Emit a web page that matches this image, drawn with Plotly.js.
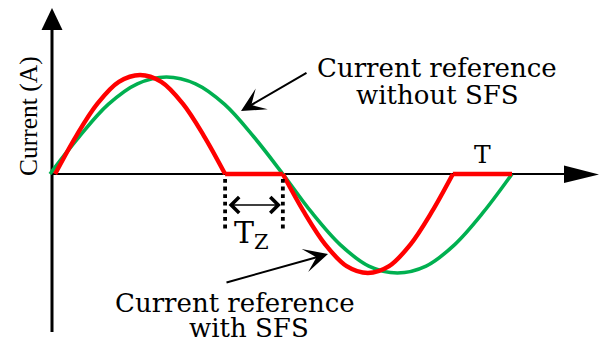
<!DOCTYPE html>
<html>
<head>
<meta charset="utf-8">
<script src="https://cdn.plot.ly/plotly-3.0.1.min.js"></script>
<style>html,body{margin:0;padding:0;background:#fff}#chart{width:600px;height:345px}</style>
</head>
<body>
<div id="chart"></div>
<script>
// ---- data (time in periods, current in per-unit amplitude) ----
const greenTime = [0, 0.063, 0.126, 0.189, 0.252, 0.315, 0.378, 0.441, 0.504,
                   0.566, 0.628, 0.690, 0.752, 0.814, 0.876, 0.938, 1.0];
const greenCurrent = [0, 0.38, 0.71, 0.92, 0.99, 0.92, 0.71, 0.38, 0,
                      -0.39, -0.72, -0.94, -1.01, -0.94, -0.72, -0.39, 0];

const redPosTime = [0.011, 0.057, 0.103, 0.149, 0.195, 0.241, 0.287, 0.333, 0.379];
const redPosCurrent = [0, 0.39, 0.72, 0.94, 1.01, 0.94, 0.72, 0.39, 0];
const redZero1Time = [0.379, 0.504];
const redZero1Current = [0, 0];
const redNegTime = [0.504, 0.550, 0.596, 0.642, 0.688, 0.734, 0.780, 0.826, 0.872];
const redNegCurrent = [0, -0.39, -0.72, -0.94, -1.01, -0.94, -0.72, -0.39, 0];
const redZero2Time = [0.872, 1.0];
const redZero2Current = [0, 0];

const tzStart = 0.379, tzEnd = 0.504;   // dead-zone limits
const labels = {
  yTitle: 'Current (A)',
  withoutTop: 'Current reference', withoutBottom: 'without SFS',
  withTop: 'Current reference', withBottom: 'with SFS',
  period: 'T', tz: 'T<sub>Z</sub>'
};

// ---- layout helpers (decoration placement only) ----
const X = p => (p - 50) / 462;
const Y = p => (174 - p) / 98;
const RED = '#ff0000', GREEN = '#00b050';
const FONT = 'DejaVu Serif, Liberation Serif, serif';

const traces = [
  {x: greenTime, y: greenCurrent, mode: 'lines', line: {color: GREEN, width: 3.6, shape: 'spline', smoothing: 1}},
  {x: redPosTime, y: redPosCurrent, mode: 'lines', line: {color: RED, width: 4.4, shape: 'spline', smoothing: 1}},
  {x: redZero1Time, y: redZero1Current, mode: 'lines', line: {color: RED, width: 4.4}},
  {x: redNegTime, y: redNegCurrent, mode: 'lines', line: {color: RED, width: 4.4, shape: 'spline', smoothing: 1}},
  {x: redZero2Time, y: redZero2Current, mode: 'lines', line: {color: RED, width: 4.4}},
  {x: [tzStart, tzStart], y: [Y(179), Y(229)], mode: 'lines', line: {color: '#000', width: 3.8, dash: 'dot'}},
  {x: [tzEnd, tzEnd], y: [Y(179), Y(229)], mode: 'lines', line: {color: '#000', width: 3.8, dash: 'dot'}}
];

const shapes = [
  // x axis
  {type: 'line', xref: 'x', yref: 'y', x0: X(52), x1: X(566), y0: 0, y1: 0, line: {color: '#000', width: 2}, layer: 'below'},
  {type: 'path', xref: 'x', yref: 'y', path: `M${X(564)},${Y(165.5)} L${X(599)},${Y(174.5)} L${X(564)},${Y(183)} Z`, fillcolor: '#000', line: {width: 0}},
  // y axis
  {type: 'line', xref: 'x', yref: 'y', x0: X(52), x1: X(52), y0: Y(332), y1: Y(28), line: {color: '#000', width: 3}, layer: 'below'},
  {type: 'path', xref: 'x', yref: 'y', path: `M${X(41.5)},${Y(30)} L${X(52)},${Y(8)} L${X(62.5)},${Y(30)} Z`, fillcolor: '#000', line: {width: 0}}
];

const txt = (text, xp, yp, size, extra) => Object.assign({
  text, x: X(xp), y: Y(yp), xref: 'x', yref: 'y', showarrow: false,
  xanchor: 'center', yanchor: 'middle', font: {family: FONT, size: size, color: '#000'}
}, extra || {});

const annotations = [
  txt(labels.withoutTop, 437, 68, 26),
  txt(labels.withoutBottom, 437, 95, 26),
  txt(labels.withTop, 235, 303, 26),
  txt(labels.withBottom, 249, 328, 26),
  txt(labels.period, 482, 154, 25),
  txt(labels.tz, 251, 234, 30),
  txt(labels.yTitle, 28, 116, 25.5, {textangle: -90, font: {family: 'Liberation Serif, serif', size: 25.5, color: '#000'}}),
  // pointer arrows
  {x: X(241), y: Y(111), ax: X(308), ay: Y(72), xref: 'x', yref: 'y', axref: 'x', ayref: 'y',
   showarrow: true, arrowhead: 3, arrowsize: 2, arrowwidth: 2, arrowcolor: '#000', text: '', standoff: 0},
  {x: X(328), y: Y(254), ax: X(225), ay: Y(283), xref: 'x', yref: 'y', axref: 'x', ayref: 'y',
   showarrow: true, arrowhead: 3, arrowsize: 2, arrowwidth: 2, arrowcolor: '#000', text: '', standoff: 0},
  // T_Z double arrow
  {x: tzEnd, y: Y(205), ax: tzStart, ay: Y(205), xref: 'x', yref: 'y', axref: 'x', ayref: 'y',
   showarrow: true, arrowside: 'end+start', arrowhead: 4, startarrowhead: 4, arrowsize: 2.4, startarrowsize: 2.4,
   arrowwidth: 1.3, arrowcolor: '#000', text: '', standoff: 2, startstandoff: 2}
];

const layout = {
  width: 600, height: 345,
  margin: {l: 0, r: 0, t: 0, b: 0},
  paper_bgcolor: '#fff', plot_bgcolor: '#fff',
  showlegend: false,
  xaxis: {range: [X(0), X(600)], visible: false, fixedrange: true},
  yaxis: {range: [Y(345), Y(0)], visible: false, fixedrange: true},
  shapes, annotations
};

Plotly.newPlot('chart', traces, layout, {staticPlot: true, displayModeBar: false});
</script>
</body>
</html>
